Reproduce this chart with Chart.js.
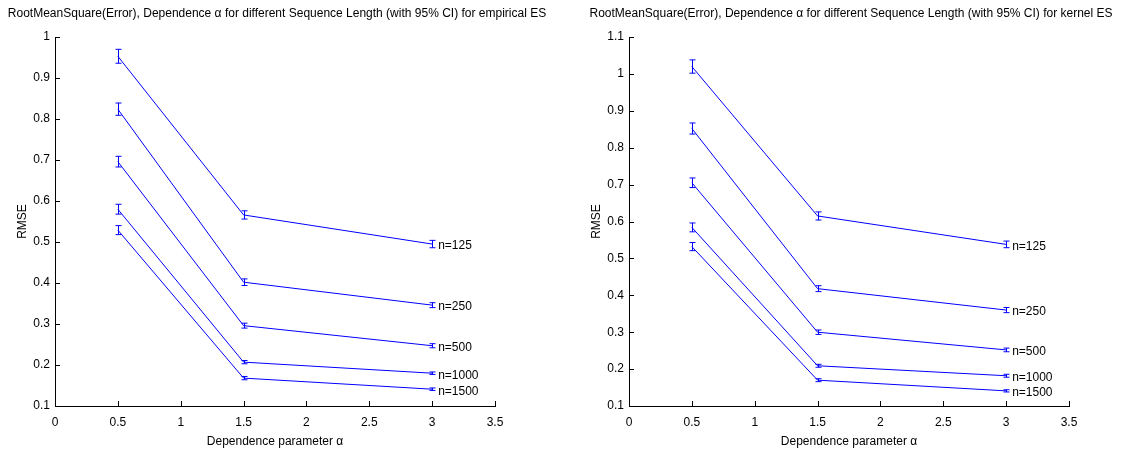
<!DOCTYPE html>
<html>
<head>
<meta charset="utf-8">
<script src="https://cdn.jsdelivr.net/npm/chart.js@4/dist/chart.umd.min.js"></script>
<style>
  body { margin: 0; background: #fff; }
  .row { display: flex; width: 1126px; height: 454px; }
  canvas { display: block; }
</style>
</head>
<body>
<div class="row">
  <canvas id="empirical" width="563" height="454"></canvas>
  <canvas id="kernel" width="563" height="454"></canvas>
</div>
<script>
// dependence parameter values on the x axis
const alphas = [0.5, 1.5, 3];
const seqLabels = ['n=125', 'n=250', 'n=500', 'n=1000', 'n=1500'];

// RMSE per sequence length (rows) and alpha (columns), with 95% CI half widths
const empiricalRmse = [
  [0.953, 0.566, 0.495],
  [0.824, 0.402, 0.346],
  [0.696, 0.296, 0.247],
  [0.580, 0.207, 0.180],
  [0.529, 0.168, 0.141]
];
const empiricalCi = [
  [0.017, 0.010, 0.009],
  [0.015, 0.008, 0.006],
  [0.013, 0.006, 0.005],
  [0.012, 0.004, 0.003],
  [0.011, 0.004, 0.003]
];
const kernelRmse = [
  [1.020, 0.615, 0.538],
  [0.852, 0.418, 0.360],
  [0.705, 0.300, 0.252],
  [0.584, 0.209, 0.182],
  [0.532, 0.170, 0.141]
];
const kernelCi = [
  [0.018, 0.011, 0.009],
  [0.015, 0.008, 0.007],
  [0.013, 0.006, 0.005],
  [0.012, 0.004, 0.004],
  [0.011, 0.004, 0.003]
];

const xTicks = [0, 0.5, 1, 1.5, 2, 2.5, 3, 3.5];

const FONT = "'Liberation Sans', Arial, sans-serif";
Chart.defaults.font.family = FONT;
Chart.defaults.font.size = 12;
Chart.defaults.color = '#000';

const BLUE = '#0000ff';

// error bars with small caps at every point
const errorBars = {
  id: 'errorBars',
  afterDatasetsDraw(chart, args, opts) {
    const ctx = chart.ctx;
    const xs = chart.scales.x, ys = chart.scales.y;
    ctx.save();
    ctx.strokeStyle = BLUE;
    ctx.lineWidth = 1;
    chart.data.datasets.forEach((ds, i) => {
      ds.data.forEach((p, j) => {
        const ci = opts.ci[i][j];
        const x = Math.round(xs.getPixelForValue(p.x)) + 0.5;
        const y1 = ys.getPixelForValue(p.y + ci);
        const y2 = ys.getPixelForValue(p.y - ci);
        ctx.beginPath();
        ctx.moveTo(x, y1); ctx.lineTo(x, y2);
        ctx.moveTo(x - 3, y1); ctx.lineTo(x + 3, y1);
        ctx.moveTo(x - 3, y2); ctx.lineTo(x + 3, y2);
        ctx.stroke();
      });
    });
    ctx.restore();
  }
};

// "n=..." text next to the last point of each line
const endLabels = {
  id: 'endLabels',
  afterDatasetsDraw(chart) {
    const ctx = chart.ctx;
    const xs = chart.scales.x, ys = chart.scales.y;
    ctx.save();
    ctx.font = '12px ' + FONT;
    ctx.fillStyle = '#000';
    ctx.textBaseline = 'middle';
    chart.data.datasets.forEach(ds => {
      const p = ds.data[ds.data.length - 1];
      ctx.fillText(ds.label, xs.getPixelForValue(p.x) + 6, ys.getPixelForValue(p.y) + 2);
    });
    ctx.restore();
  }
};

// tick marks pointing into the plot, plus the title centred over the axes
const innerTicks = {
  id: 'innerTicks',
  afterDraw(chart, args, opts) {
    const ctx = chart.ctx;
    const area = chart.chartArea;
    const xs = chart.scales.x, ys = chart.scales.y;
    ctx.save();
    ctx.strokeStyle = '#000';
    ctx.lineWidth = 1;
    ctx.beginPath();
    xs.ticks.forEach(t => {
      const x = Math.round(xs.getPixelForValue(t.value)) + 0.5;
      ctx.moveTo(x, area.bottom);
      ctx.lineTo(x, area.bottom - 5);
    });
    ys.ticks.forEach(t => {
      const y = Math.round(ys.getPixelForValue(t.value)) + 0.5;
      ctx.moveTo(area.left, y);
      ctx.lineTo(area.left + 5, y);
    });
    ctx.stroke();

    ctx.font = '12px ' + FONT;
    ctx.fillStyle = '#000';
    ctx.textAlign = 'center';
    ctx.textBaseline = 'middle';
    ctx.fillText(opts.title, (area.left + area.right) / 2 + opts.shift, 14);
    ctx.restore();
  }
};

function makeChart(id, title, rmse, ci, yMax, yAxisWidth, titlePad, rightPad, shift) {
  const datasets = seqLabels.map((lab, i) => ({
    label: lab,
    data: alphas.map((a, j) => ({ x: a, y: rmse[i][j] })),
    borderColor: BLUE,
    borderWidth: 1,
    pointRadius: 0,
    tension: 0,
    fill: false
  }));

  return new Chart(document.getElementById(id), {
    type: 'line',
    data: { datasets: datasets },
    plugins: [errorBars, endLabels, innerTicks],
    options: {
      responsive: false,
      animation: false,
      layout: { padding: { left: 0, right: rightPad, top: 37, bottom: 0 } },
      scales: {
        x: {
          type: 'linear',
          min: 0,
          max: 3.5,
          afterBuildTicks: s => { s.ticks = xTicks.map(v => ({ value: v })); },
          afterFit: s => { s.height = 48; },
          grid: { display: false, drawTicks: false },
          border: { color: '#000', width: 1 },
          ticks: { padding: 9, maxRotation: 0, callback: v => String(+v.toFixed(2)) },
          title: { display: true, text: 'Dependence parameter \u03b1', padding: { top: 0, bottom: 5 } }
        },
        y: {
          min: 0.1,
          max: yMax,
          afterFit: s => { s.width = yAxisWidth; },
          grid: { display: false, drawTicks: false },
          border: { color: '#000', width: 1 },
          ticks: { stepSize: 0.1, padding: 5, callback: v => String(+v.toFixed(2)) },
          title: { display: true, text: 'RMSE', padding: { top: titlePad, bottom: 0 } }
        }
      },
      plugins: {
        legend: { display: false },
        tooltip: { enabled: false },
        title: { display: false },
        errorBars: { ci: ci },
        innerTicks: { title: title, shift: shift }
      }
    }
  });
}

makeChart('empirical',
  'RootMeanSquare(Error), Dependence \u03b1 for different Sequence Length (with 95% CI) for empirical ES',
  empiricalRmse, empiricalCi, 1, 55, 15, 68, 2);
makeChart('kernel',
  'RootMeanSquare(Error), Dependence \u03b1 for different Sequence Length (with 95% CI) for kernel ES',
  kernelRmse, kernelCi, 1.1, 66, 26, 57, 2);
</script>
</body>
</html>
